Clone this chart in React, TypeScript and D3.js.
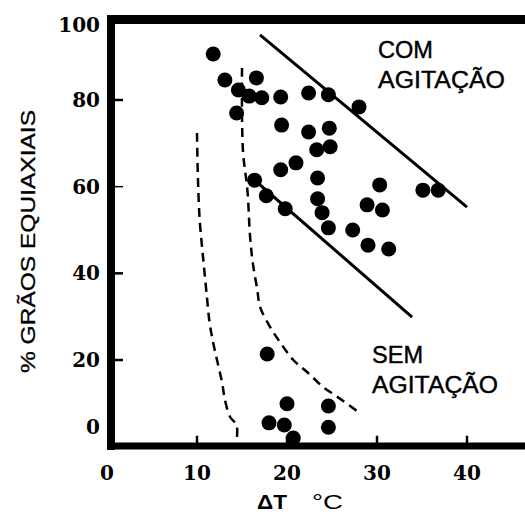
import React from 'react';
import * as d3 from 'd3';

// measured points: ΔT (°C) and % equiaxed grains
const dotT = [11.8, 13.1, 16.6, 14.6, 15.8, 17.2, 19.3, 22.4, 24.6, 28.0, 14.4, 19.4, 22.4, 24.7, 23.3, 24.8, 21.0, 19.3, 23.4, 23.4, 23.9, 24.6, 27.3, 30.3, 28.9, 30.6, 29.0, 31.3, 35.1, 36.8, 16.4, 17.7, 19.8, 17.8, 20.0, 18.0, 19.7, 20.7, 24.6, 24.6];
const dotPct = [90.6, 84.6, 85.1, 82.3, 80.9, 80.5, 80.7, 81.6, 81.2, 78.4, 77.0, 74.2, 72.6, 73.5, 68.5, 69.2, 65.5, 63.9, 62.0, 57.2, 54.0, 50.5, 50.0, 60.4, 55.8, 54.6, 46.5, 45.6, 59.2, 59.2, 61.5, 57.9, 54.9, 21.4, 9.9, 5.5, 5.0, 2.0, 9.4, 4.5];

// solid boundary lines
const upperLineT = [17.0, 40.0];
const upperLinePct = [95.0, 55.3];
const lowerLineT = [16.4, 33.9];
const lowerLinePct = [61.5, 29.9];

// dashed curves
const leftCurveT = [10.0, 10.1, 10.3, 10.7, 11.1, 11.4, 11.8, 12.3, 12.8, 13.1, 13.7, 14.4, 14.4];
const leftCurvePct = [72.4, 62.2, 52.3, 43.1, 34.6, 28.6, 24.0, 19.3, 14.7, 10.8, 6.8, 5.0, 1.5];
const rightCurveT = [15.0, 15.1, 15.6, 15.9, 16.2, 16.7, 17.0, 18.1, 19.2, 20.7, 22.2, 24.0, 25.6, 27.8];
const rightCurvePct = [87.4, 68.5, 59.2, 48.4, 42.4, 36.2, 32.3, 27.7, 24.2, 20.0, 17.3, 13.8, 11.5, 8.2];

const xTicks = [0, 10, 20, 30, 40];
const yTicks = [0, 20, 40, 60, 80, 100];

const W = 525;
const H = 515;

export default function App() {
  const x = d3.scaleLinear().domain([0, 40]).range([107, 467]);
  const y = d3.scaleLinear().domain([0, 100]).range([446.7, 13.3]);

  const line = d3.line<[number, number]>()
    .x(d => x(d[0]))
    .y(d => y(d[1]));
  const curve = d3.line<[number, number]>()
    .x(d => x(d[0]))
    .y(d => y(d[1]))
    .curve(d3.curveCatmullRom.alpha(0.5));

  const zip = (a: number[], b: number[]) => a.map((v, i) => [v, b[i]] as [number, number]);

  const axisY = y(0);
  const numFont = '"DejaVu Serif", serif';
  const sans = '"Liberation Sans", Arial, sans-serif';

  return (
    <svg width={W} height={H} style={{ position: 'absolute', left: 0, top: 0, background: '#fff' }}>
      {/* frame */}
      <line x1={111} x2={111} y1={15} y2={450} stroke="#000" strokeWidth={8} />
      <line x1={107} x2={W} y1={19.5} y2={19.5} stroke="#000" strokeWidth={9} />
      <line x1={107} x2={W} y1={446} y2={446} stroke="#000" strokeWidth={7} />

      {/* y ticks */}
      {yTicks.filter(v => v > 0 && v < 100).map(v => (
        <line key={'yt' + v} x1={114} x2={123} y1={y(v)} y2={y(v)} stroke="#000" strokeWidth={v === 60 ? 1.5 : 2.5} />
      ))}
      {yTicks.map(v => (
        <text key={'yl' + v} x={100} y={Math.min(Math.max(y(v), 25), 427)} textAnchor="end"
          dominantBaseline="central" fontFamily={numFont} fontWeight="bold" fontSize={20}>{v}</text>
      ))}

      {/* x ticks */}
      {xTicks.filter(v => v > 0).map(v => (
        <line key={'xt' + v} x1={x(v)} x2={x(v)} y1={axisY - 11} y2={axisY} stroke="#000" strokeWidth={2.5} />
      ))}
      {xTicks.map(v => (
        <text key={'xl' + v} x={x(v)} y={480} textAnchor="middle"
          fontFamily={numFont} fontWeight="bold" fontSize={20}>{v}</text>
      ))}

      {/* axis titles */}
      <text transform="translate(35,241.5) rotate(-90)" textAnchor="middle" fontFamily={sans}
        fontSize={21} stroke="#000" strokeWidth={0.3} textLength={263} lengthAdjust="spacingAndGlyphs">% GRÃOS EQUIAXIAIS</text>
      <text x={257} y={509} fontFamily={sans} fontSize={20} fontWeight="bold" textLength={30} lengthAdjust="spacingAndGlyphs">ΔT</text>
      <text x={312} y={509} fontFamily={sans} fontSize={20} textLength={31} lengthAdjust="spacingAndGlyphs">°C</text>

      {/* solid boundaries */}
      <path d={line(zip(upperLineT, upperLinePct)) || ''} fill="none" stroke="#000" strokeWidth={3} />
      <path d={line(zip(lowerLineT, lowerLinePct)) || ''} fill="none" stroke="#000" strokeWidth={3} />

      {/* dashed curves */}
      <path d={curve(zip(leftCurveT, leftCurvePct)) || ''} fill="none" stroke="#000" strokeWidth={2.5} strokeDasharray="9 6" />
      <path d={curve(zip(rightCurveT, rightCurvePct)) || ''} fill="none" stroke="#000" strokeWidth={2.5} strokeDasharray="9 6" />

      {/* data points */}
      {dotT.map((t, i) => (
        <circle key={'d' + i} cx={x(t)} cy={y(dotPct[i])} r={7.5} fill="#000" />
      ))}

      {/* annotations */}
      <g fontFamily={sans} fontSize={23} stroke="#000" strokeWidth={0.4}>
        <text x={378} y={58} textLength={55} lengthAdjust="spacingAndGlyphs">COM</text>
        <text x={378} y={88} textLength={127} lengthAdjust="spacingAndGlyphs">AGITAÇÃO</text>
        <text x={372} y={363} textLength={51} lengthAdjust="spacingAndGlyphs">SEM</text>
        <text x={372} y={393} textLength={126} lengthAdjust="spacingAndGlyphs">AGITAÇÃO</text>
      </g>
    </svg>
  );
}
